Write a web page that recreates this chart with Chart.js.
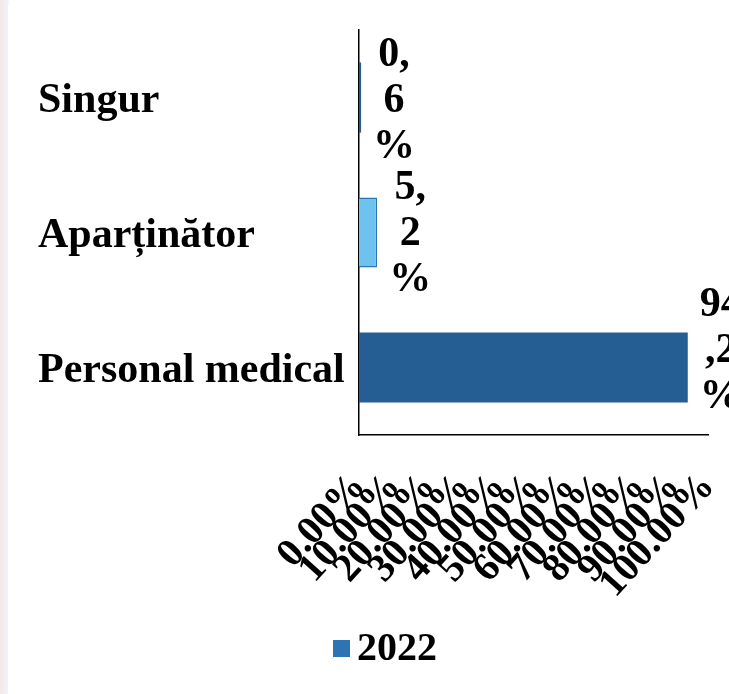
<!DOCTYPE html>
<html>
<head>
<meta charset="utf-8">
<script src="https://cdn.jsdelivr.net/npm/chart.js@4.4.1/dist/chart.umd.min.js"></script>
<style>
  html, body { margin: 0; padding: 0; }
  body {
    width: 729px; height: 694px; overflow: hidden;
    background: linear-gradient(90deg, #f3e9ea 0px, #f1f2f7 8px, #ffffff 10px);
  }
  #wrap { position: absolute; left: 8px; top: 5px; width: 721px; height: 689px; background: #fff; }
</style>
</head>
<body>
<div id="wrap"><canvas id="chart"></canvas></div>
<script>
const categories = ["Singur", "Aparținător", "Personal medical"];
const seriesName = "2022";
const values = [0.6, 5.2, 94.2];
const valueLabels = [["0,", "6", "%"], ["5,", "2", "%"], ["94", ",2", "%"]];
const barColors = ["#245e92", "#6ec3ee", "#245e92"];
const borderColors = ["#245e92", "#2e74b5", "#245e92"];
const legendColor = "#2e74b5";

const serif = "'Liberation Serif', 'Times New Roman', serif";

const valueLabelPlugin = {
  id: "valueLabels",
  afterDatasetsDraw(chart, args, opts) {
    const ctx = chart.ctx;
    const meta = chart.getDatasetMeta(0);
    const nudge = opts.nudge || [];
    ctx.save();
    ctx.font = "bold 42px " + serif;
    ctx.fillStyle = "#000";
    ctx.textAlign = "center";
    ctx.textBaseline = "middle";
    meta.data.forEach(function (bar, i) {
      const lines = valueLabels[i];
      const lh = 46;
      const x = bar.x + 33;
      const y0 = bar.y + (nudge[i] || 0) - lh * (lines.length - 1) / 2;
      lines.forEach(function (t, j) {
        ctx.fillText(t, x, y0 + j * lh);
      });
    });
    ctx.restore();
  },
};

// legend drawn by hand so the gap between square and text stays small
const legendPlugin = {
  id: "tightLegend",
  afterDraw(chart) {
    const box = chart.legend.legendHitBoxes[0];
    if (!box) return;
    const ctx = chart.ctx;
    ctx.save();
    ctx.font = "bold 40px " + serif;
    const tw = ctx.measureText(seriesName).width;
    const total = 17 + 7 + tw;
    const cx = box.left + box.width / 2 + 12;
    const left = cx - total / 2;
    const cy = box.top + box.height / 2;
    ctx.fillStyle = legendColor;
    ctx.fillRect(left, cy - 8, 17, 17);
    ctx.fillStyle = "#000";
    ctx.textBaseline = "middle";
    ctx.fillText(seriesName, left + 24, cy + 2);
    ctx.restore();
  },
};

const ctx = document.getElementById("chart").getContext("2d");

const chart = new Chart(ctx, {
  type: "bar",
  data: {
    labels: categories,
    datasets: [
      {
        label: seriesName,
        data: values,
        backgroundColor: barColors,
        borderColor: borderColors,
        borderWidth: [0, 1.5, 0],
        categoryPercentage: 0.8,
        barPercentage: 0.65,
      },
    ],
  },
  options: {
    indexAxis: "y",
    responsive: true,
    maintainAspectRatio: false,
    animation: false,
    layout: {
      padding: { left: 30, right: 21, top: 25, bottom: 16 },
    },
    scales: {
      x: {
        min: 0,
        max: 100,
        grid: { display: false, drawTicks: false },
        border: { color: "#000", width: 1.5 },
        afterFit: function (scale) {
          scale.height = 185;
          scale.paddingLeft = 0;
          scale.paddingRight = 0;
        },
        ticks: {
          stepSize: 10,
          color: "#000",
          minRotation: 48,
          maxRotation: 48,
          autoSkip: false,
          padding: 29,
          font: { family: serif, size: 40, weight: "bold" },
          callback: function (v) {
            return v.toFixed(2) + "%";
          },
        },
      },
      y: {
        grid: { display: false, drawTicks: false },
        border: { color: "#000", width: 1.5 },
        afterFit: function (scale) {
          scale.width = 321;
          scale.paddingTop = 0;
          scale.paddingBottom = 0;
        },
        ticks: {
          color: "#000",
          crossAlign: "far",
          labelOffset: 4,
          padding: 17,
          font: { family: serif, size: 42, weight: "bold" },
        },
      },
    },
    plugins: {
      valueLabels: { nudge: [4, 2, -16] },
      legend: {
        display: true,
        position: "bottom",
        labels: {
          boxWidth: 17,
          boxHeight: 17,
          padding: 8,
          font: { family: serif, size: 40, weight: "bold" },
          generateLabels: function () {
            return [
              {
                text: seriesName,
                fillStyle: "rgba(0,0,0,0)",
                strokeStyle: "rgba(0,0,0,0)",
                lineWidth: 0,
                fontColor: "rgba(0,0,0,0)",
                datasetIndex: 0,
              },
            ];
          },
        },
      },
      tooltip: { enabled: false },
    },
  },
  plugins: [valueLabelPlugin, legendPlugin],
});
</script>
</body>
</html>
